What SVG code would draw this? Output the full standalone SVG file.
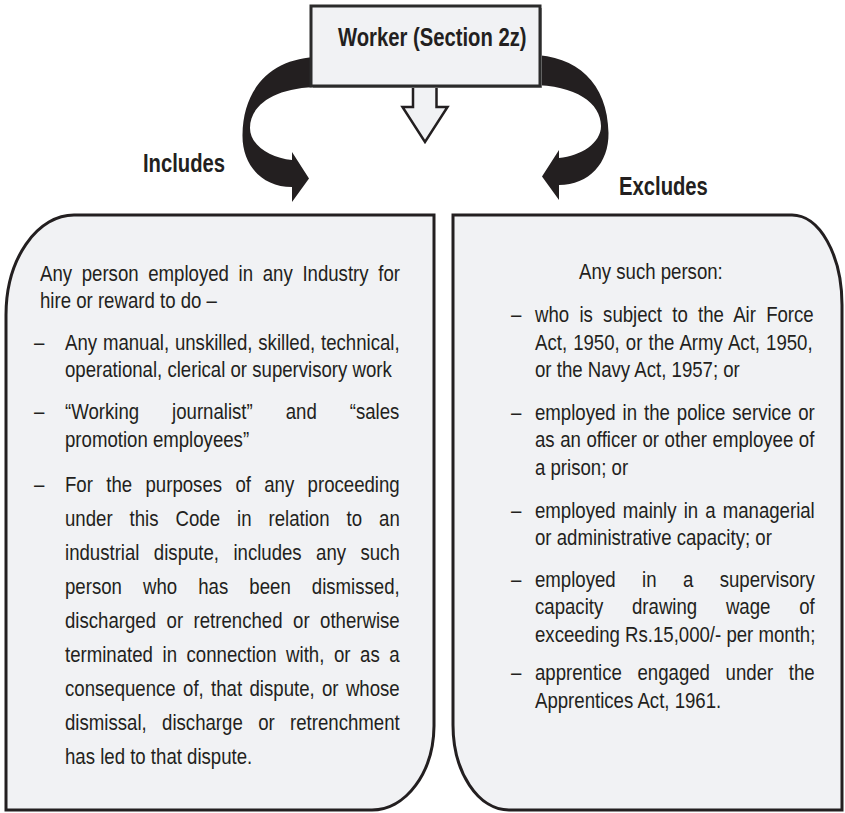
<svg xmlns="http://www.w3.org/2000/svg" width="845" height="813" viewBox="0 0 845 813">
<style>
.t{font-family:'Liberation Sans',Arial,sans-serif;font-size:23px;fill:#231f20}
.b{font-family:'Liberation Sans',Arial,sans-serif;font-size:25px;font-weight:bold;fill:#231f20}
.panel{fill:#f1f2f4;stroke:#231f20;stroke-width:3}
.curve{fill:#231f20}
.box{fill:#f1f2f4;stroke:#2b2b2b;stroke-width:3}
</style>
<rect width="845" height="813" fill="#ffffff"/>
<g id="connectors">
  <path id="arrow-includes" class="curve" d="M 320,57 C 275,57 243,85 242.5,135 C 242,165 262,187 292,187 L 292,202 L 309,178.5 L 292,152 L 292,160 C 270,158 250,145 250,128 C 250,105 275,87 320,87 Z"/>
  <path id="arrow-excludes" class="curve" d="M 531,55 C 576,55 608,83 608.5,133 C 609,163 589,185 559,185 L 559,200 L 542,176.5 L 559,150 L 559,158 C 581,156 601,143 601,126 C 601,103 576,85 531,85 Z"/>
  <polygon id="arrow-down" points="413,86 413,107 402.5,107 425,142 447.5,107 436.5,107 436.5,86" fill="#f1f2f4" stroke="#231f20" stroke-width="2.5" stroke-linejoin="miter"/>
  <text class="b" transform="translate(143 172) scale(0.81 1)">Includes</text>
  <text class="b" transform="translate(619 195) scale(0.81 1)">Excludes</text>
</g>
<g id="worker">
  <rect x="313" y="8" width="229" height="80" fill="#9a9a9a"/>
  <rect class="box" x="311" y="6" width="229" height="80"/>
  <text class="b" transform="translate(338 46) scale(0.81 1)">Worker (Section 2z)</text>
</g>
<g id="includes-panel">
  <path class="panel" d="M 74,215 H 434 V 726 A 62 85 0 0 1 372 810 H 6 V 315 A 68 100 0 0 1 74 215 Z"/>
  <text class="t" transform="translate(40 281) scale(0.81 1)" word-spacing="5.53">Any person employed in any Industry for</text>
  <text class="t" transform="translate(40 308) scale(0.81 1)">hire or reward to do –</text>
  <text class="t" transform="translate(34 350) scale(0.81 1)">–</text>
  <text class="t" transform="translate(65 350) scale(0.81 1)" word-spacing="0.8">Any manual, unskilled, skilled, technical,</text>
  <text class="t" transform="translate(65 377) scale(0.81 1)">operational, clerical or supervisory work</text>
  <text class="t" transform="translate(34 418.5) scale(0.81 1)">–</text>
  <text class="t" transform="translate(65 418.5) scale(0.81 1)" word-spacing="34.3">“Working journalist” and “sales</text>
  <text class="t" transform="translate(65 446.5) scale(0.81 1)">promotion employees”</text>
  <text class="t" transform="translate(34 491.5) scale(0.81 1)">–</text>
  <text class="t" transform="translate(65 491.5) scale(0.81 1)" word-spacing="10.1">For the purposes of any proceeding</text>
  <text class="t" transform="translate(65 525.5) scale(0.81 1)" word-spacing="14.6">under this Code in relation to an</text>
  <text class="t" transform="translate(65 559.5) scale(0.81 1)" word-spacing="11.36">industrial dispute, includes any such</text>
  <text class="t" transform="translate(65 593.5) scale(0.81 1)" word-spacing="19.66">person who has been dismissed,</text>
  <text class="t" transform="translate(65 627.5) scale(0.81 1)" word-spacing="6.57">discharged or retrenched or otherwise</text>
  <text class="t" transform="translate(65 661.5) scale(0.81 1)" word-spacing="5.43">terminated in connection with, or as a</text>
  <text class="t" transform="translate(65 695.5) scale(0.81 1)" word-spacing="2.69">consequence of, that dispute, or whose</text>
  <text class="t" transform="translate(65 729.5) scale(0.81 1)" word-spacing="12.6">dismissal, discharge or retrenchment</text>
  <text class="t" transform="translate(65 763.5) scale(0.81 1)">has led to that dispute.</text>
</g>
<g id="excludes-panel">
  <path class="panel" d="M 453,215 H 792 A 50 90 0 0 1 842 305 V 810 H 509 A 56 85 0 0 1 453 725 Z"/>
  <text class="t" transform="translate(579 278.5) scale(0.81 1)">Any such person:</text>
  <text class="t" transform="translate(511 321.5) scale(0.81 1)">–</text>
  <text class="t" transform="translate(535 321.5) scale(0.81 1)" word-spacing="6.27">who is subject to the Air Force</text>
  <text class="t" transform="translate(535 349.5) scale(0.81 1)" word-spacing="1.15">Act, 1950, or the Army Act, 1950,</text>
  <text class="t" transform="translate(535 377) scale(0.81 1)">or the Navy Act, 1957; or</text>
  <text class="t" transform="translate(511 419.5) scale(0.81 1)">–</text>
  <text class="t" transform="translate(535 419.5) scale(0.81 1)" word-spacing="2.15">employed in the police service or</text>
  <text class="t" transform="translate(535 447) scale(0.81 1)" word-spacing="0.51">as an officer or other employee of</text>
  <text class="t" transform="translate(535 475) scale(0.81 1)">a prison; or</text>
  <text class="t" transform="translate(511 517.5) scale(0.81 1)">–</text>
  <text class="t" transform="translate(535 517.5) scale(0.81 1)" word-spacing="2.38">employed mainly in a managerial</text>
  <text class="t" transform="translate(535 545) scale(0.81 1)">or administrative capacity; or</text>
  <text class="t" transform="translate(511 587) scale(0.81 1)">–</text>
  <text class="t" transform="translate(535 587) scale(0.81 1)" word-spacing="26.2">employed in a supervisory</text>
  <text class="t" transform="translate(535 614) scale(0.81 1)" word-spacing="29.1">capacity drawing wage of</text>
  <text class="t" transform="translate(535 641.5) scale(0.81 1)">exceeding Rs.15,000/- per month;</text>
  <text class="t" transform="translate(511 680) scale(0.81 1)">–</text>
  <text class="t" transform="translate(535 680) scale(0.81 1)" word-spacing="12.9">apprentice engaged under the</text>
  <text class="t" transform="translate(535 708) scale(0.81 1)">Apprentices Act, 1961.</text>
</g>
</svg>
